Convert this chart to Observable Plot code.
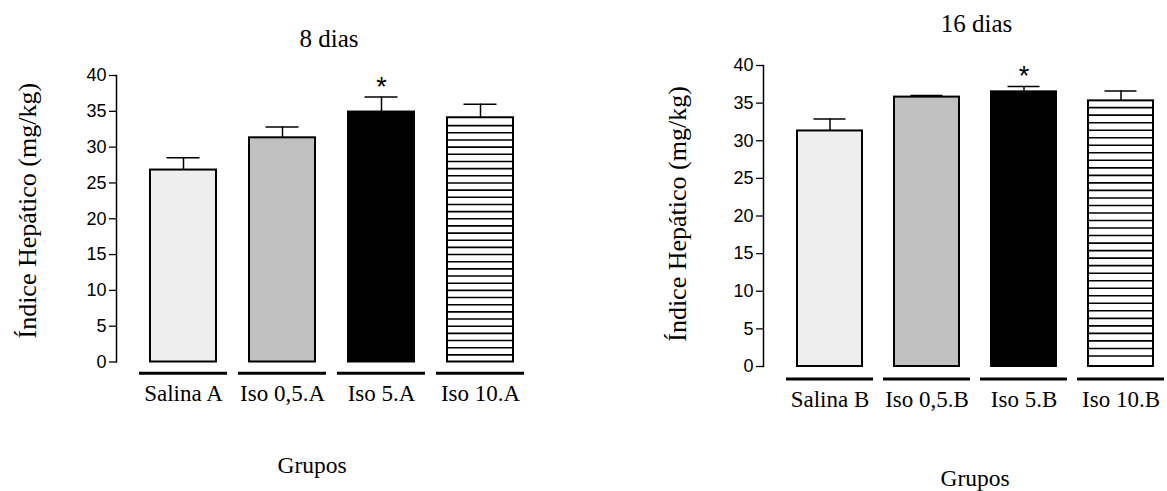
<!DOCTYPE html>
<html>
<head>
<meta charset="utf-8">
<script src="https://cdn.jsdelivr.net/npm/d3@7"></script>
<script src="https://cdn.jsdelivr.net/npm/@observablehq/plot@0.6"></script>
<style>
  html, body { margin: 0; padding: 0; background: #fff; overflow: hidden; }
  #wrap { position: relative; width: 1167px; height: 491px; overflow: hidden; }
  #left, #right { position: absolute; top: 0; }
  #left { left: 0; width: 580px; }
  #right { left: 580px; width: 620px; }
  svg { max-width: none !important; }
</style>
</head>
<body>
<div id="wrap"><div id="left"></div><div id="right"></div></div>
<script>
// ---- data ----
const groupsA = ["Salina A", "Iso 0,5.A", "Iso 5.A", "Iso 10.A"];
const meansA = [26.8, 31.3, 34.9, 34.1];
const errorsA = [1.7, 1.5, 2.1, 1.9];

const groupsB = ["Salina B", "Iso 0,5.B", "Iso 5.B", "Iso 10.B"];
const meansB = [31.3, 35.8, 36.5, 35.3];
const errorsB = [1.6, 0.2, 0.7, 1.3];

const significant = [false, false, true, false];
const yTicks = [0, 5, 10, 15, 20, 25, 30, 35, 40];
const titleA = "8 dias";
const titleB = "16 dias";
const xTitle = "Grupos";
const yTitle = "Índice Hepático (mg/kg)";

// ---- styles ----
const FILLS = ["#eeeeee", "#c0c0c0", "#000000", "#ffffff"];
const HATCHED = [false, false, false, true];
const SERIF = "'Liberation Serif', 'Times New Roman', serif";
const SANS = "'Liberation Sans', Arial, sans-serif";

function chart(groups, means, errors, title, o) {
  const data = groups.map((g, i) => ({
    g, v: means[i], e: means[i] + errors[i], s: significant[i], f: FILLS[i], h: HATCHED[i]
  }));
  const stripes = data.filter(d => d.h)
    .flatMap(d => d3.range(o.stripeStart, d.v - 0.3, 1).map(y => ({g: d.g, y})));
  return Plot.plot({
    width: o.width, height: 491,
    marginTop: o.mt, marginBottom: o.mb, marginLeft: o.ml, marginRight: o.mr,
    x: {domain: groups, paddingInner: 0.333, paddingOuter: o.po, label: null},
    y: {domain: [0, 40], label: null},
    color: {type: "identity"},
    style: {background: "white", overflow: "visible", color: "black"},
    marks: [
      Plot.frame({anchor: "left", strokeWidth: 1.5}),
      Plot.axisY({ticks: yTicks, tickSize: 7, tickPadding: 3, fontSize: 18, fontFamily: SANS,
                  strokeWidth: 1.3, tickFormat: d => String(d), label: null}),
      Plot.axisX({tickSize: 0, tickPadding: o.xpad, fontSize: 23, fontFamily: SERIF, label: null}),
      Plot.ruleX(data, {x: "g", y1: "v", y2: "e", strokeWidth: 1.5}),
      Plot.tickY(data, {x: "g", y: "e", insetLeft: o.cap, insetRight: o.cap, strokeWidth: 1.5}),
      Plot.barY(data, {x: "g", y: "v", fill: "f", stroke: "black", strokeWidth: 2}),
      Plot.tickY(stripes, {x: "g", y: "y", strokeWidth: 1.6}),
      Plot.tickY(data, {x: "g", y: () => o.underline, insetLeft: -11, insetRight: -11, strokeWidth: 3}),
      Plot.text(data.filter(d => d.s), {x: "g", y: "e", text: () => "*", dy: -10,
                fontSize: 27, fontFamily: SANS, lineAnchor: "middle"}),
      Plot.text([title], {frameAnchor: "top", dx: o.tdx, dy: o.tdy, lineAnchor: "middle",
                textAnchor: "middle", fontSize: 25, fontFamily: SERIF}),
      Plot.text([xTitle], {frameAnchor: "bottom", dx: o.gdx, dy: o.gdy, lineAnchor: "middle",
                textAnchor: "middle", fontSize: 23.5, fontFamily: SERIF}),
      Plot.text([yTitle], {frameAnchor: "left", rotate: -90, dx: o.ydx, dy: o.ydy,
                lineAnchor: "middle", textAnchor: "middle", fontSize: 26, fontFamily: SERIF})
    ]
  });
}

document.getElementById("left").append(chart(groupsA, meansA, errorsA, titleA, {
  width: 580, mt: 75, mb: 129.5, ml: 116, mr: 33, po: 0.343, cap: 16.5, underline: -1.56,
  stripeStart: 1, xpad: 23, tdx: -3, tdy: -37, gdx: -20, gdy: 103, ydx: -89, ydy: -8
}));
document.getElementById("right").append(chart(groupsB, meansB, errorsB, titleB, {
  width: 620, mt: 65, mb: 125, ml: 183, mr: 14, po: 0.339, cap: 16.5, underline: -1.65,
  stripeStart: 1.4, xpad: 24, tdx: 1.5, tdy: -42, gdx: 0, gdy: 112, ydx: -86, ydy: -2
}));
</script>
</body>
</html>
